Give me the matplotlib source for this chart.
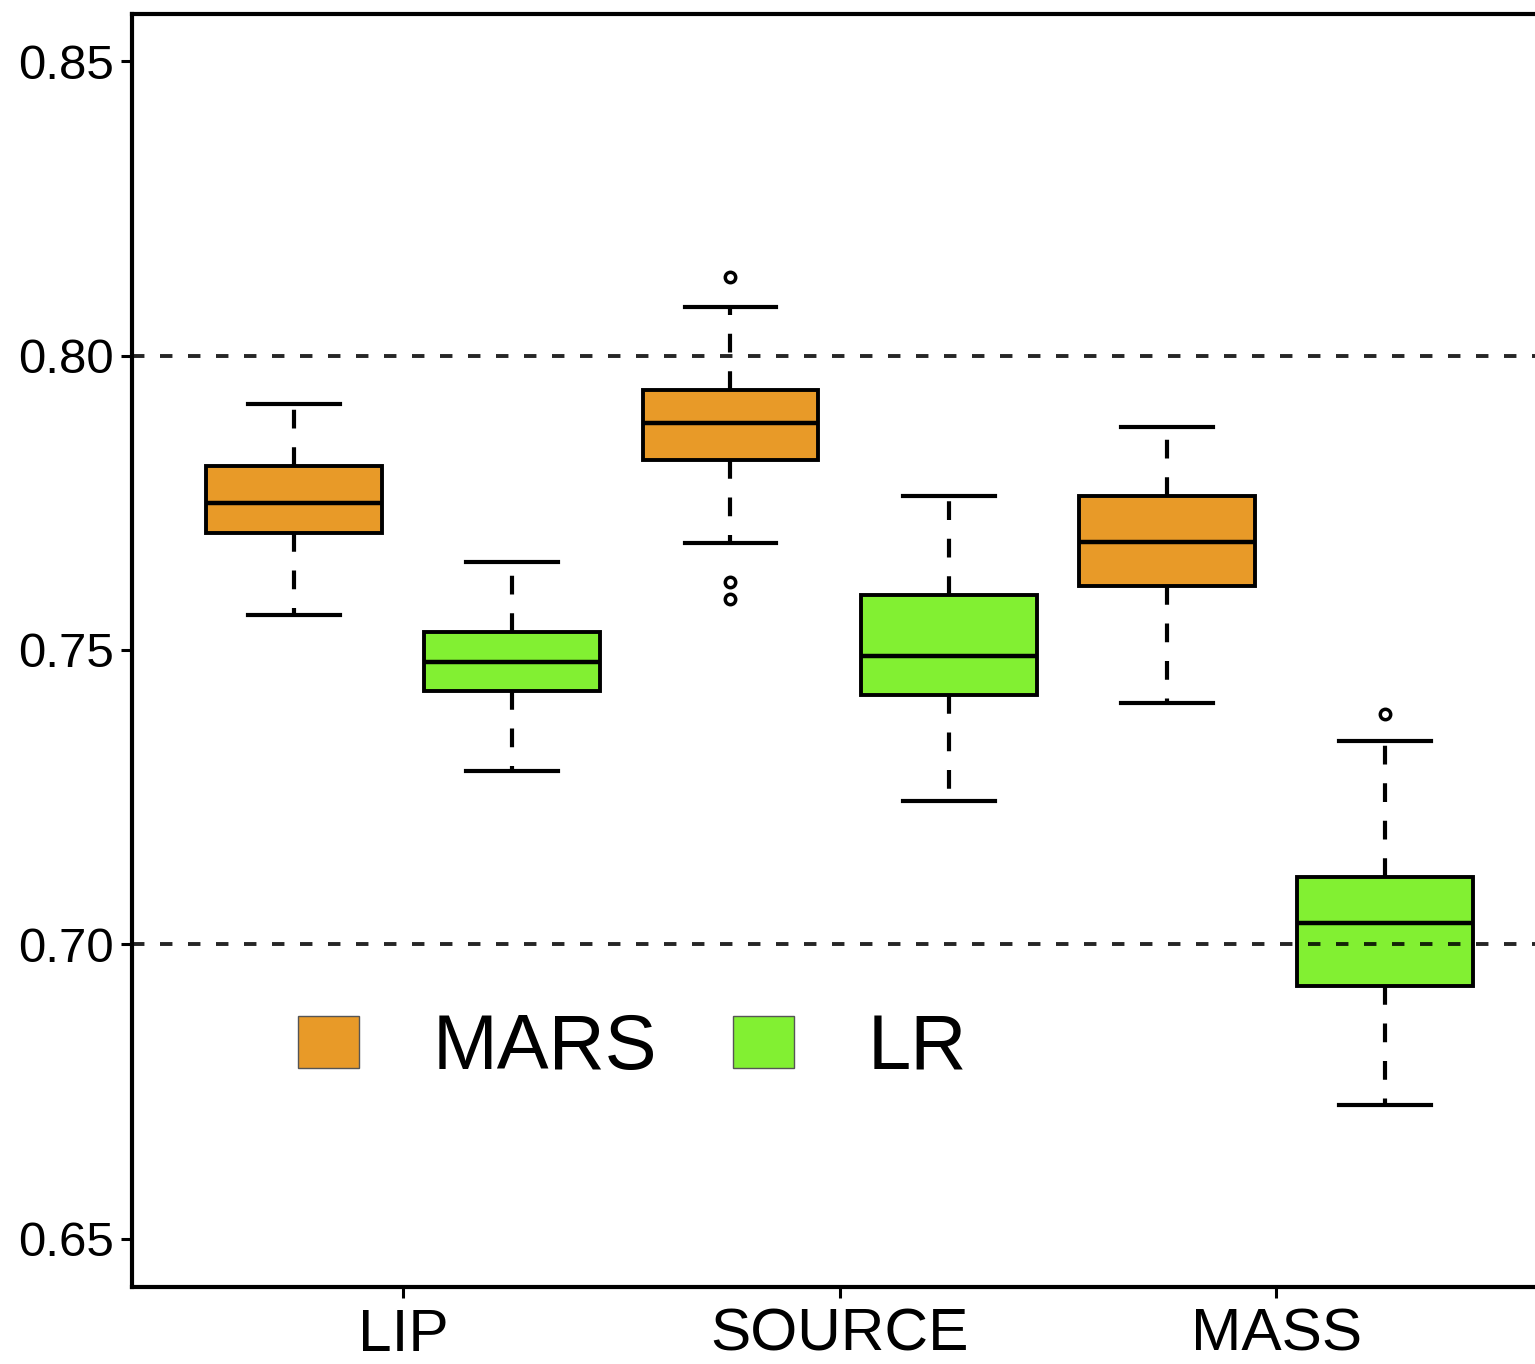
import matplotlib
matplotlib.use('Agg')
import matplotlib.pyplot as plt
from matplotlib.patches import Patch

plt.rcParams['font.family'] = ['Liberation Sans', 'DejaVu Sans']

groups = ['LIP', 'SOURCE', 'MASS']
methods = ['MARS', 'LR']
colors = ['#E89A28', '#82F032']

mars_whislo = [0.7559, 0.7681, 0.7409]
mars_q1 = [0.7699, 0.7823, 0.7608]
mars_med = [0.7750, 0.7886, 0.7684]
mars_q3 = [0.7812, 0.7942, 0.7762]
mars_whishi = [0.7918, 0.8083, 0.7878]
mars_fliers = [[], [0.8134, 0.7616, 0.7587], []]

lr_whislo = [0.7294, 0.7243, 0.6727]
lr_q1 = [0.7430, 0.7424, 0.6930]
lr_med = [0.7479, 0.7489, 0.7036]
lr_q3 = [0.7530, 0.7593, 0.7114]
lr_whishi = [0.7649, 0.7761, 0.7346]
lr_fliers = [[], [], [0.7392]]

ref_lines = [0.70, 0.80]
yticks = [0.65, 0.70, 0.75, 0.80, 0.85]

W, H = 1535, 1364
fig = plt.figure(figsize=(W / 100, H / 100), dpi=100)
ax = fig.add_axes([132 / W, 1 - 1287 / H, 1 - 132 / W, (1287 - 14) / H])

def make_stats(lo, q1, med, q3, hi, fl):
    return [dict(whislo=lo[i], q1=q1[i], med=med[i], q3=q3[i], whishi=hi[i], fliers=fl[i])
            for i in range(len(lo))]

series = [
    make_stats(mars_whislo, mars_q1, mars_med, mars_q3, mars_whishi, mars_fliers),
    make_stats(lr_whislo, lr_q1, lr_med, lr_q3, lr_whishi, lr_fliers),
]
offsets = [-0.25, 0.25]
centers = list(range(1, len(groups) + 1))

for stats, off, col in zip(series, offsets, colors):
    ax.bxp(stats, positions=[c + off for c in centers], widths=0.403,
           capwidths=0.21, patch_artist=True, showfliers=True,
           boxprops=dict(facecolor=col, edgecolor='black', linewidth=2.8),
           whiskerprops=dict(color='black', linewidth=3.0, linestyle=(0, (4.5, 4.5))),
           capprops=dict(color='black', linewidth=3.0),
           medianprops=dict(color='black', linewidth=3.2),
           flierprops=dict(marker='o', markersize=7.5, markerfacecolor='white',
                           markeredgecolor='black', markeredgewidth=2.5))

for y in ref_lines:
    ax.axhline(y, color='black', linewidth=2.8, linestyle=(0, (3.2, 4.0)), alpha=0.85, zorder=5)

ax.set_ylim(0.6418, 0.858)
ax.set_xlim(0.379, 3.593)
ax.set_yticks(yticks)
ax.set_yticklabels([f'{v:.2f}' for v in yticks])
ax.set_xticks(centers)
ax.set_xticklabels(groups)
ax.tick_params(axis='y', labelsize=35.5, length=8, width=2.2, pad=5)
ax.tick_params(axis='x', labelsize=43.5, length=8, width=2.2, pad=7)
for s in ['left', 'bottom', 'top']:
    ax.spines[s].set_linewidth(3.0)
ax.spines['right'].set_visible(False)

handles = [Patch(facecolor=c, edgecolor='#555555', linewidth=1) for c in colors]
ax.legend(handles, methods, ncol=2, frameon=False, fontsize=56,
          handlelength=0.78, handleheight=0.64, handletextpad=0.95,
          columnspacing=0.98, loc='center left', bbox_to_anchor=(0.1183, 0.187),
          borderpad=0, borderaxespad=0)

fig.savefig('out.png', dpi=100)
